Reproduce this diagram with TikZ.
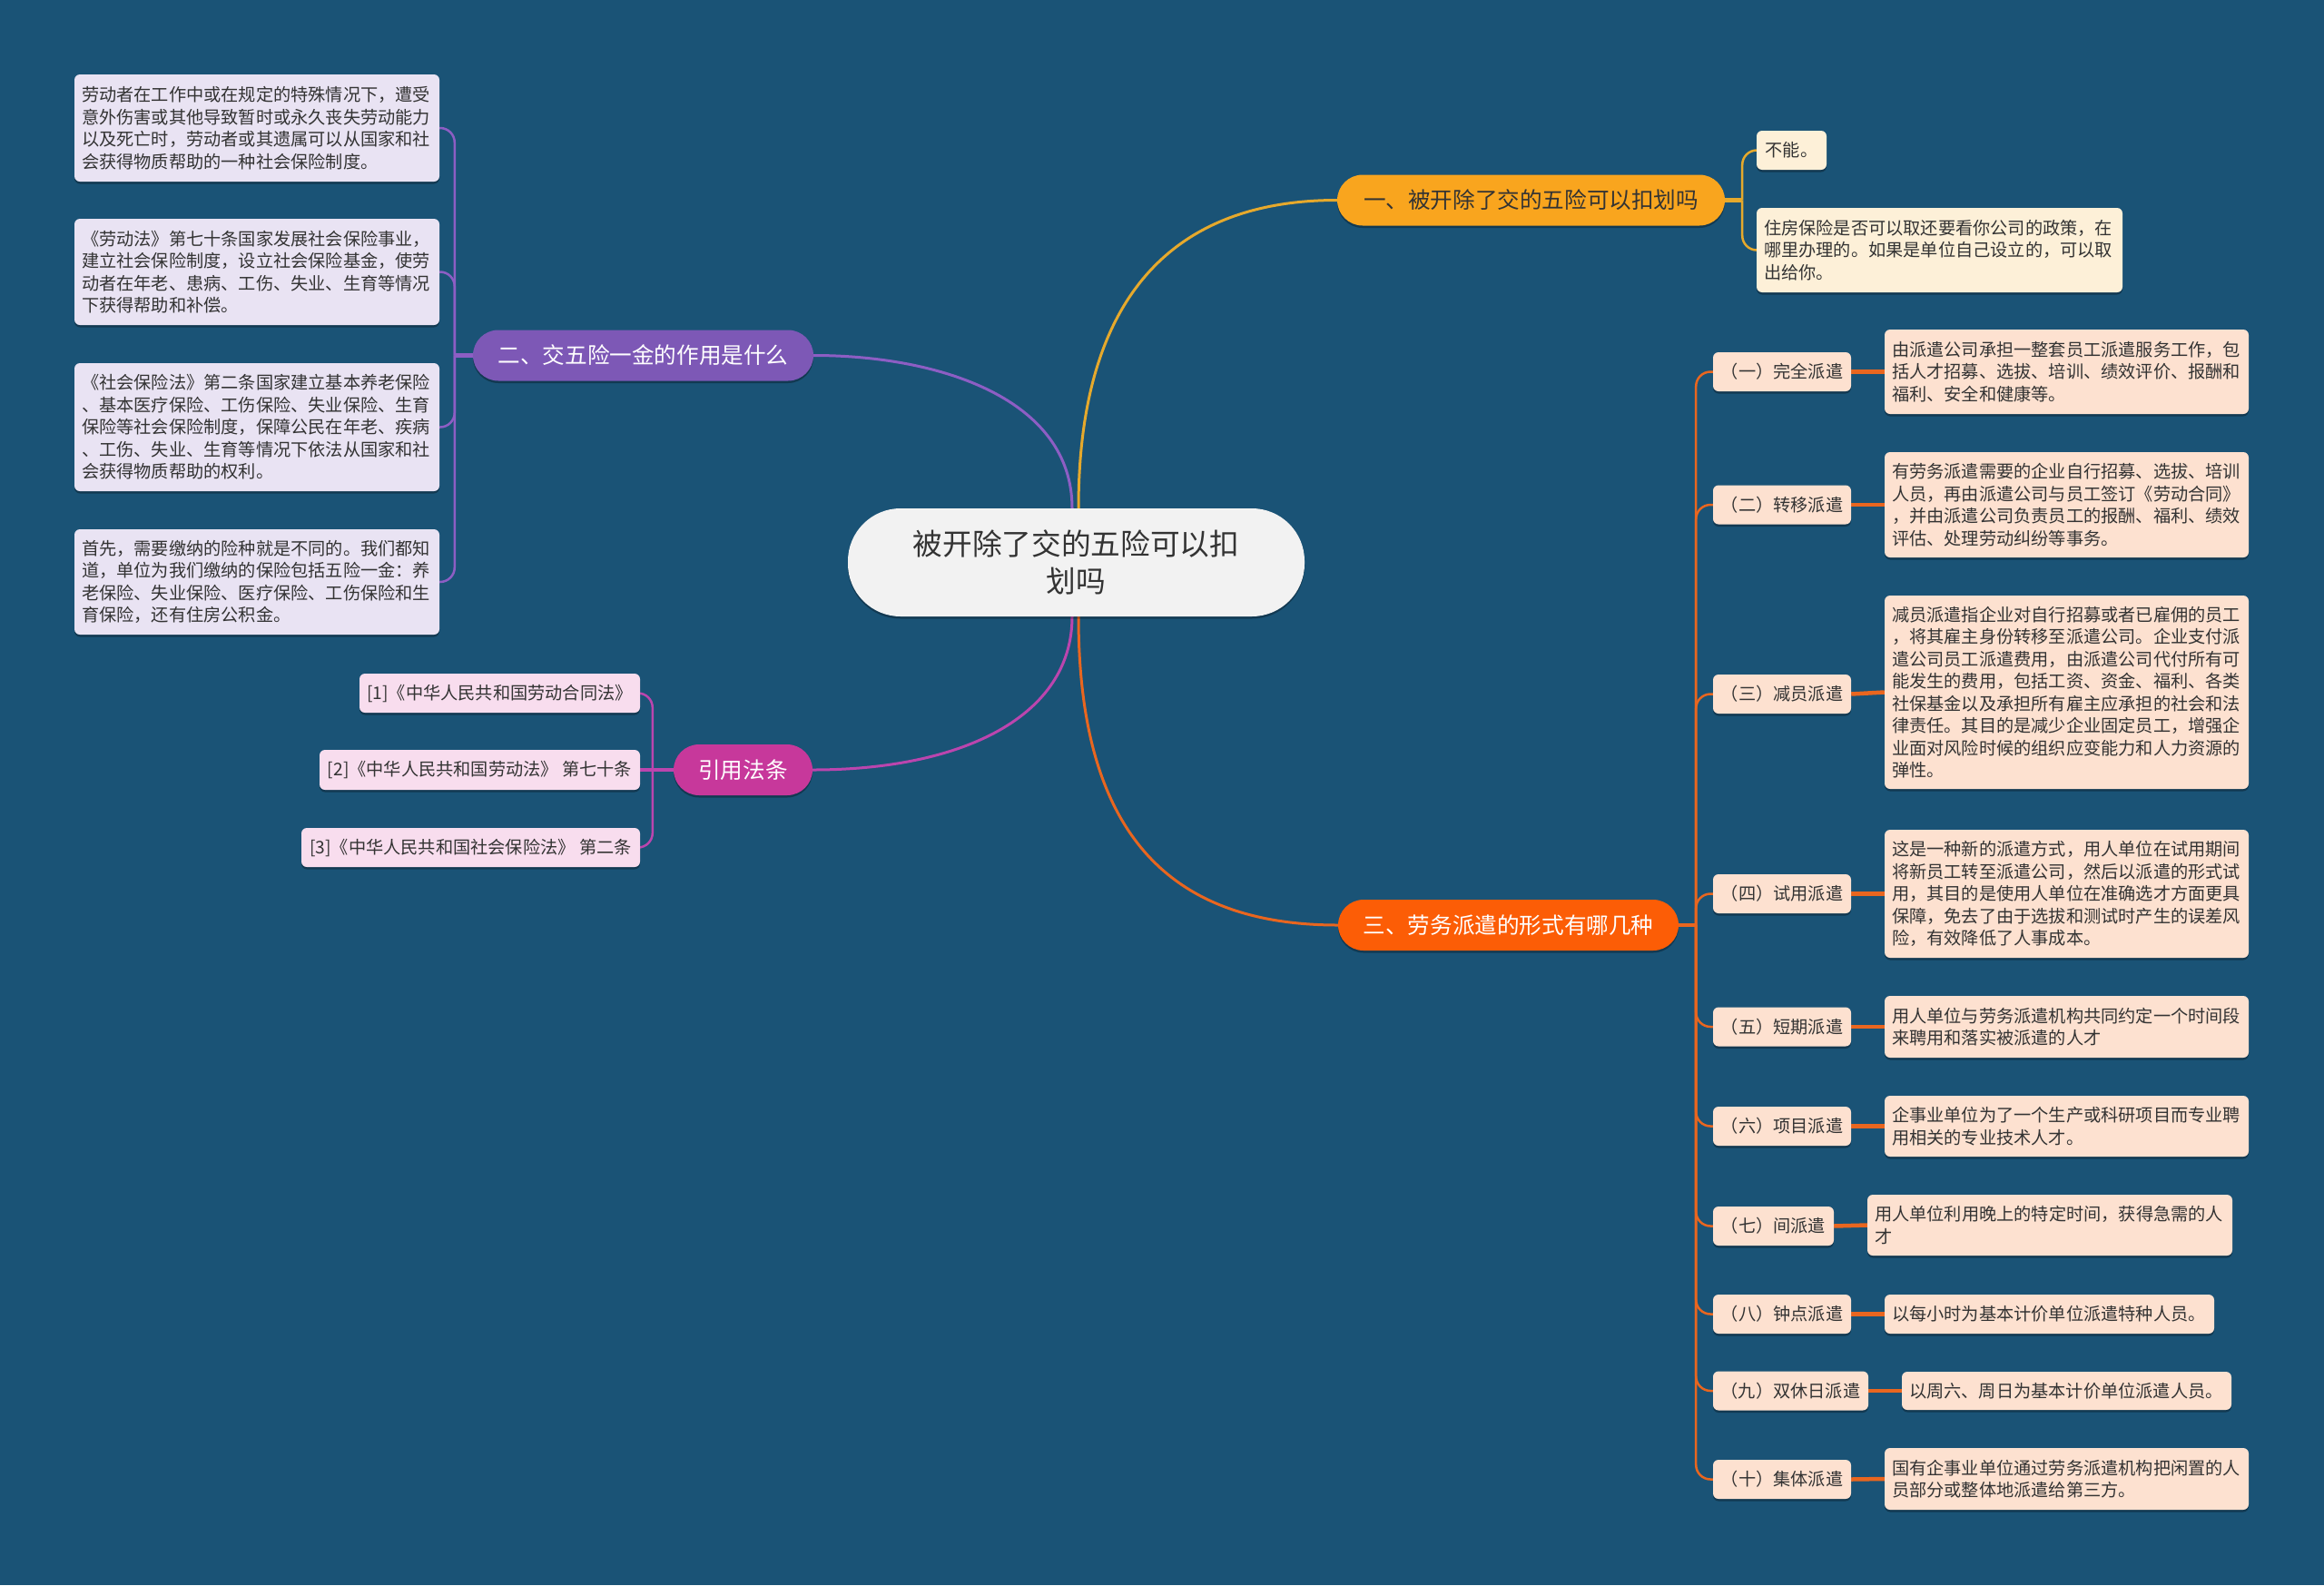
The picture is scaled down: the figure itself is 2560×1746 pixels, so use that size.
\documentclass[tikz,border=0pt]{standalone}
\usepackage{fontspec}
\setmainfont{Noto Sans CJK SC}
\usetikzlibrary{shadows}
\definecolor{bgc}{HTML}{1A5376}
\definecolor{cfill}{HTML}{F2F2F2}
\definecolor{amberf}{HTML}{F9A51E}
\definecolor{amberl}{HTML}{E6A92C}
\definecolor{creamf}{HTML}{FDF0D8}
\definecolor{purpf}{HTML}{7D58B6}
\definecolor{purpl}{HTML}{8D5EC4}
\definecolor{lavf}{HTML}{E9E3F3}
\definecolor{magf}{HTML}{C7389B}
\definecolor{magl}{HTML}{BB45AE}
\definecolor{pinkf}{HTML}{F8DDEE}
\definecolor{orngf}{HTML}{FC5D06}
\definecolor{orngl}{HTML}{E9661F}
\definecolor{peachf}{HTML}{FDE1D0}
\definecolor{txtc}{HTML}{333333}
\newcommand\descfnt{\fontsize{19.2}{24.5}\selectfont}
\newcommand\titlefnt{\fontsize{24.6}{30}\selectfont}
\newcommand\centfnt{\fontsize{32.7}{41.7}\selectfont}
\pgfdeclarelayer{back}
\pgfdeclarelayer{lines}
\pgfsetlayers{back,lines,main}
\begin{document}
\begin{tikzpicture}[x=1pt,y=-1pt,
  shad/.style={drop shadow={shadow xshift=0pt,shadow yshift=-2.5pt,opacity=0.3,fill=black}},
  box/.style={shad, rounded corners=6pt, inner xsep=8pt, inner ysep=0pt, align=left, text=txtc, font=\descfnt},
  lab/.style={box, fill=peachf, minimum width=152pt, minimum height=43pt, align=center, inner xsep=4pt},
  desc/.style={box, fill=peachf},
  ttl/.style={shad, rounded corners=28pt, minimum height=56pt, inner xsep=10pt, font=\titlefnt, text=white, align=center},
  central/.style={shad, fill=cfill, rounded corners=58pt, minimum width=503pt, minimum height=119pt, align=center, font=\centfnt, text=txtc},
  mainline/.style={line width=3pt},
  subline/.style={line width=2.5pt, rounded corners=16pt},
  thick line/.style={line width=4.5pt}
]
\begin{pgfonlayer}{back}
\fill[bgc] (0,0) rectangle (2560,1746);
\end{pgfonlayer}
\useasboundingbox (0,0) rectangle (2560,1746);

% central
\node[central] (c) at (1185.5,619.5) {被开除了交的五险可以扣\\划吗};

% branch 1
\node[ttl, fill=amberf, text=txtc, minimum width=427pt] (b1) at (1686.5,220.5) {一、被开除了交的五险可以扣划吗};
\node[box, fill=creamf, minimum width=77pt, minimum height=43pt, inner xsep=4pt] (b1a) at (1973.5,165.5) {不能。};
\node[box, fill=creamf, minimum width=403pt, text width=387pt, minimum height=93pt] (b1b) at (2136.5,275.5) {住房保险是否可以取还要看你公司的政策，在\\哪里办理的。如果是单位自己设立的，可以取\\出给你。};

% branch 2
\node[ttl, fill=purpf, minimum width=375pt] (b2) at (708.5,391.5) {二、交五险一金的作用是什么};
\node[box, fill=lavf, minimum width=402pt, text width=386pt, minimum height=118pt] (b2a) at (283,141) {劳动者在工作中或在规定的特殊情况下，遭受\\意外伤害或其他导致暂时或永久丧失劳动能力\\以及死亡时，劳动者或其遗属可以从国家和社\\会获得物质帮助的一种社会保险制度。};
\node[box, fill=lavf, minimum width=402pt, text width=386pt, minimum height=117pt] (b2b) at (283,299.5) {《劳动法》第七十条国家发展社会保险事业，\\建立社会保险制度，设立社会保险基金，使劳\\动者在年老、患病、工伤、失业、生育等情况\\下获得帮助和补偿。};
\node[box, fill=lavf, minimum width=402pt, text width=386pt, minimum height=141pt] (b2c) at (283,470.5) {《社会保险法》第二条国家建立基本养老保险\\、基本医疗保险、工伤保险、失业保险、生育\\保险等社会保险制度，保障公民在年老、疾病\\、工伤、失业、生育等情况下依法从国家和社\\会获得物质帮助的权利。};
\node[box, fill=lavf, minimum width=402pt, text width=386pt, minimum height=116pt] (b2d) at (283,641) {首先，需要缴纳的险种就是不同的。我们都知\\道，单位为我们缴纳的保险包括五险一金：养\\老保险、失业保险、医疗保险、工伤保险和生\\育保险，还有住房公积金。};

% branch 3
\node[ttl, fill=magf, minimum width=153pt] (b3) at (818.5,848) {引用法条};
\node[box, fill=pinkf, minimum width=309pt, minimum height=43pt, align=center] (l1) at (550.5,763.5) {[1]《中华人民共和国劳动合同法》};
\node[box, fill=pinkf, minimum width=353pt, minimum height=44pt, align=center] (l2) at (528.5,848) {[2]《中华人民共和国劳动法》 第七十条};
\node[box, fill=pinkf, minimum width=373pt, minimum height=43pt, align=center] (l3) at (518.5,933.5) {[3]《中华人民共和国社会保险法》 第二条};

% branch 4
\node[ttl, fill=orngf, minimum width=375pt] (b4) at (1661.5,1019) {三、劳务派遣的形式有哪几种};

\node[lab] (k1) at (1963,409.5) {（一）完全派遣};
\node[lab] (k2) at (1963,556) {（二）转移派遣};
\node[lab] (k3) at (1963,764.5) {（三）减员派遣};
\node[lab] (k4) at (1963,984.5) {（四）试用派遣};
\node[lab] (k5) at (1963,1131) {（五）短期派遣};
\node[lab] (k6) at (1963,1240.5) {（六）项目派遣};
\node[lab, minimum width=133pt] (k7) at (1953.5,1350.5) {（七）间派遣};
\node[lab] (k8) at (1963,1447.5) {（八）钟点派遣};
\node[lab, minimum width=171pt] (k9) at (1972.5,1532) {（九）双休日派遣};
\node[lab] (k10) at (1963,1629.5) {（十）集体派遣};

\node[desc, minimum width=401pt, text width=385pt, minimum height=93pt] (d1) at (2276.5,409.5) {由派遣公司承担一整套员工派遣服务工作，包\\括人才招募、选拔、培训、绩效评价、报酬和\\福利、安全和健康等。};
\node[desc, minimum width=401pt, text width=385pt, minimum height=116pt] (d2) at (2276.5,556) {有劳务派遣需要的企业自行招募、选拔、培训\\人员，再由派遣公司与员工签订《劳动合同》\\，并由派遣公司负责员工的报酬、福利、绩效\\评估、处理劳动纠纷等事务。};
\node[desc, minimum width=401pt, text width=385pt, minimum height=213pt] (d3) at (2276.5,762.5) {减员派遣指企业对自行招募或者已雇佣的员工\\，将其雇主身份转移至派遣公司。企业支付派\\遣公司员工派遣费用，由派遣公司代付所有可\\能发生的费用，包括工资、资金、福利、各类\\社保基金以及承担所有雇主应承担的社会和法\\律责任。其目的是减少企业固定员工，增强企\\业面对风险时候的组织应变能力和人力资源的\\弹性。};
\node[desc, minimum width=401pt, text width=385pt, minimum height=141pt] (d4) at (2276.5,984.5) {这是一种新的派遣方式，用人单位在试用期间\\将新员工转至派遣公司，然后以派遣的形式试\\用，其目的是使用人单位在准确选才方面更具\\保障，免去了由于选拔和测试时产生的误差风\\险，有效降低了人事成本。};
\node[desc, minimum width=401pt, text width=385pt, minimum height=68pt] (d5) at (2276.5,1131) {用人单位与劳务派遣机构共同约定一个时间段\\来聘用和落实被派遣的人才};
\node[desc, minimum width=401pt, text width=385pt, minimum height=67pt] (d6) at (2276.5,1240.5) {企事业单位为了一个生产或科研项目而专业聘\\用相关的专业技术人才。};
\node[desc, minimum width=402pt, text width=386pt, minimum height=67pt] (d7) at (2258,1349.5) {用人单位利用晚上的特定时间，获得急需的人\\才};
\node[desc, minimum width=363pt, text width=347pt, minimum height=43pt] (d8) at (2257.5,1447.5) {以每小时为基本计价单位派遣特种人员。};
\node[desc, minimum width=363pt, text width=347pt, minimum height=42pt] (d9) at (2276.5,1532) {以周六、周日为基本计价单位派遣人员。};
\node[desc, minimum width=401pt, text width=385pt, minimum height=68pt] (d10) at (2276.5,1629) {国有企事业单位通过劳务派遣机构把闲置的人\\员部分或整体地派遣给第三方。};

\coordinate (s1) at ([xshift=19pt]b1.east);
\coordinate (s2) at ([xshift=-20pt]b2.west);
\coordinate (s3) at ([xshift=-23pt]b3.west);
\coordinate (s4) at ([xshift=19pt]b4.east);

\begin{pgfonlayer}{lines}
% main connectors
\draw[mainline, amberl] ([xshift=2.5pt]c.north) .. controls +(0,-230) and +(-183,0) .. (b1.west);
\draw[mainline, purpl] ([xshift=-4.5pt]c.north) .. controls +(0,-120) and +(140,0) .. (b2.east);
\draw[mainline, magl] ([xshift=-4.5pt]c.south) .. controls +(0,110) and +(165,0) .. (b3.east);
\draw[mainline, orngl] ([xshift=2.5pt]c.south) .. controls +(0,240) and +(-185,0) .. (b4.west);

% branch 1
\draw[thick line, amberl] (b1.east) -- (s1);
\draw[subline, amberl] (s1) |- (b1a.west);
\draw[subline, amberl] (s1) |- (b1b.west);

% branch 2
\draw[thick line, purpl] (b2.west) -- (s2);
\foreach \n in {b2a,b2b,b2c,b2d} \draw[subline, purpl] (s2) |- (\n.east);

% branch 3
\draw[thick line, magl] (b3.west) -- (s3);
\draw[subline, magl] (s3) |- (l1.east);
\draw[thick line, magl] (s3) -- (l2.east);
\draw[subline, magl] (s3) |- (l3.east);

% branch 4
\draw[thick line, orngl] (b4.east) -- (s4);
\foreach \n in {k1,k2,k3,k4,k5,k6,k7,k8,k9,k10} \draw[subline, orngl] (s4) |- (\n.west);
\foreach \a/\b in {k1/d1,k2/d2,k3/d3,k4/d4,k5/d5,k6/d6,k7/d7,k8/d8,k9/d9,k10/d10} \draw[thick line, orngl] (\a.east) -- (\b.west);
\end{pgfonlayer}
\end{tikzpicture}
\end{document}
